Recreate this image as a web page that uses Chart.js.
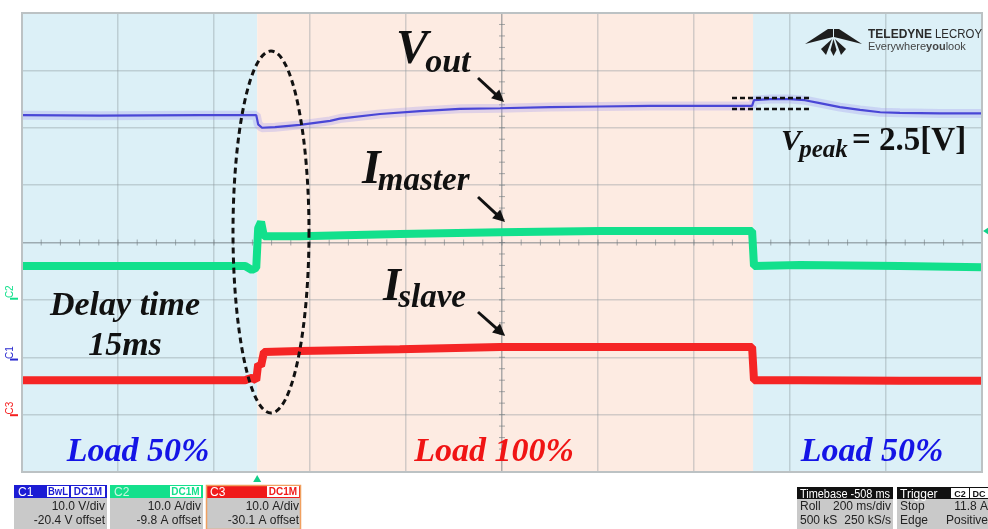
<!DOCTYPE html>
<html>
<head>
<meta charset="utf-8">
<script src="https://cdn.jsdelivr.net/npm/chart.js@4.4.0/dist/chart.umd.min.js"></script>
<style>
  html, body { margin: 0; padding: 0; background: #fff; }
  canvas { display: block; }
</style>
</head>
<body>
<canvas id="scopeCanvas" width="988" height="529"></canvas>
<script>
// time axis in ms, 200 ms/div, 10 div on screen
const timeMin = 0;
const timeMax = 2000;
const loadStepUp = 490;     // load 50% -> 100%
const loadStepDown = 1523;  // load 100% -> 50%

// C1 : Vout [V]
const vTime = [0, 162, 371, 475, 488, 492, 500, 527, 579, 642, 662, 746, 829, 912, 996, 1100, 1204, 1308, 1412, 1521, 1525, 1558, 1600, 1631, 1662, 1704, 1746, 1788, 1829, 1912, 2000];
const vOut  = [42.6, 42.5, 42.6, 42.6, 42.6, 41.0, 40.4, 40.5, 40.9, 41.6, 42.0, 42.8, 43.3, 43.7, 43.8, 44.0, 44.1, 44.2, 44.2, 44.2, 45.2, 45.4, 45.4, 45.2, 44.7, 44.0, 43.5, 43.1, 43.0, 42.9, 42.9];

// C2 : Imaster [A], C3 : Islave [A]
const iTime   = [0, 465, 471, 479, 488, 492, 498, 504, 579, 787, 996, 1204, 1412, 1521, 1525, 1621, 1829, 2000];
const iMaster = [5.7, 5.7, 5.4, 5.0, 5.4, 12.3, 13.4, 10.9, 10.9, 11.3, 11.6, 11.8, 11.8, 11.8, 5.7, 5.9, 5.7, 5.5];
const iSlave  = [6.1, 6.1, 6.3, 6.5, 6.1, 8.9, 8.6, 11.0, 11.2, 11.5, 11.9, 11.9, 11.9, 11.9, 6.1, 6.1, 6.0, 6.0];

// channel settings (scale per div, offset) as shown on the scope
const channels = [
  { name: "C1", perDiv: 10, offset: -20.4, unit: "V", color: "#2a2ad0" },
  { name: "C2", perDiv: 10, offset: -9.8, unit: "A", color: "#12e08c" },
  { name: "C3", perDiv: 10, offset: -30.1, unit: "A", color: "#f52020" }
];
const triggerLevel = 11.8;

function pts(xs, ys) {
  return xs.map((t, i) => ({ x: t, y: ys[i] }));
}

function chRange(ch) {
  return { min: -4 * ch.perDiv - ch.offset, max: 4 * ch.perDiv - ch.offset };
}

const serif = '"Liberation Serif", "DejaVu Serif", serif';
const sans = '"Liberation Sans", Arial, sans-serif';

function arrow(ctx, x1, y1, x2, y2) {
  const a = Math.atan2(y2 - y1, x2 - x1);
  ctx.strokeStyle = "#111";
  ctx.fillStyle = "#111";
  ctx.lineWidth = 3;
  ctx.beginPath();
  ctx.moveTo(x1, y1);
  ctx.lineTo(x2 - 8 * Math.cos(a), y2 - 8 * Math.sin(a));
  ctx.stroke();
  ctx.beginPath();
  ctx.moveTo(x2, y2);
  ctx.lineTo(x2 - 12 * Math.cos(a) + 6 * Math.sin(a), y2 - 12 * Math.sin(a) - 6 * Math.cos(a));
  ctx.lineTo(x2 - 12 * Math.cos(a) - 6 * Math.sin(a), y2 - 12 * Math.sin(a) + 6 * Math.cos(a));
  ctx.closePath();
  ctx.fill();
}

// big symbol with subscript, e.g. V_out
function symbol(ctx, x, y, main, sub, size, subSize, drop) {
  ctx.fillStyle = "#111";
  ctx.textAlign = "left";
  ctx.textBaseline = "alphabetic";
  ctx.font = "italic bold " + size + "px " + serif;
  ctx.fillText(main, x, y);
  const w = ctx.measureText(main).width;
  ctx.font = "italic bold " + subSize + "px " + serif;
  ctx.fillText(sub, x + w - size * 0.06, y + drop);
  return x + w + ctx.measureText(sub).width;
}

function smallBox(ctx, x, y, w, h, text, fg) {
  ctx.fillStyle = "#fff";
  ctx.fillRect(x, y, w, h);
  ctx.fillStyle = fg;
  ctx.font = "bold 10px " + sans;
  ctx.textAlign = "center";
  ctx.fillText(text, x + w / 2, y + h - 2, w - 2);
}

function channelPanel(ctx, x, w, ch, headColor, nameColor, extras, border) {
  const y = 485;
  ctx.fillStyle = "#c9c9c9";
  ctx.fillRect(x, y + 13, w, 529 - y - 13);
  ctx.fillStyle = headColor;
  ctx.fillRect(x, y, w, 13);
  if (border) {
    ctx.strokeStyle = border;
    ctx.lineWidth = 1.5;
    ctx.strokeRect(x + 0.5, y + 0.5, w - 1, 529 - y);
  }
  ctx.textBaseline = "alphabetic";
  ctx.font = "12px " + sans;
  ctx.textAlign = "left";
  ctx.fillStyle = nameColor;
  ctx.fillText(ch.name, x + 4, y + 11);
  let bx = x + w - 2;
  for (let i = extras.length - 1; i >= 0; i--) {
    const e = extras[i];
    bx -= e.w;
    smallBox(ctx, bx, y + 1, e.w, 11, e.text, headColor);
    bx -= 2;
  }
  ctx.fillStyle = "#222";
  ctx.font = "12px " + sans;
  ctx.textAlign = "right";
  ctx.fillText(ch.perDiv.toFixed(1) + " " + ch.unit + "/div", x + w - 2, 510);
  ctx.fillText(ch.offset.toFixed(1) + " " + ch.unit + " offset", x + w - 2, 524);
}

function infoPanel(ctx, x, w, title, rows, boxes) {
  const y = 487;
  ctx.fillStyle = "#c9c9c9";
  ctx.fillRect(x, y + 12, w, 529 - y - 12);
  ctx.fillStyle = "#111";
  ctx.fillRect(x, y, w, 12);
  ctx.font = "12px " + sans;
  ctx.textBaseline = "alphabetic";
  ctx.textAlign = "left";
  ctx.fillStyle = "#fff";
  ctx.fillText(title, x + 3, y + 11, w - 6);
  if (boxes) {
    let bx = x + w - 20;
    for (let i = boxes.length - 1; i >= 0; i--) {
      ctx.fillStyle = "#fff";
      ctx.fillRect(bx, y + 1, 18, 10);
      ctx.fillStyle = "#111";
      ctx.font = "bold 9px " + sans;
      ctx.textAlign = "center";
      ctx.fillText(boxes[i], bx + 9, y + 10);
      bx -= 19;
    }
  }
  ctx.font = "12px " + sans;
  ctx.fillStyle = "#222";
  rows.forEach((r, i) => {
    ctx.textAlign = "left";
    ctx.fillText(r[0], x + 3, 510 + i * 14);
    ctx.textAlign = "right";
    ctx.fillText(r[1], x + w - 2, 510 + i * 14);
  });
}

function logo(ctx) {
  ctx.fillStyle = "#1e1e1e";
  // wings
  ctx.beginPath();
  ctx.moveTo(805, 44); ctx.lineTo(828, 29); ctx.lineTo(833, 29); ctx.lineTo(833, 37); ctx.closePath(); ctx.fill();
  ctx.beginPath();
  ctx.moveTo(862, 44); ctx.lineTo(839, 29); ctx.lineTo(834, 29); ctx.lineTo(834, 37); ctx.closePath(); ctx.fill();
  // petals
  ctx.beginPath();
  ctx.moveTo(832, 39); ctx.lineTo(821, 49); ctx.lineTo(826, 55); ctx.closePath(); ctx.fill();
  ctx.beginPath();
  ctx.moveTo(835, 39); ctx.lineTo(846, 49); ctx.lineTo(841, 55); ctx.closePath(); ctx.fill();
  ctx.beginPath();
  ctx.moveTo(833.5, 39); ctx.lineTo(830.5, 50); ctx.lineTo(833.5, 56); ctx.lineTo(836.5, 50); ctx.closePath(); ctx.fill();

  ctx.textAlign = "left";
  ctx.textBaseline = "alphabetic";
  ctx.font = "bold 13px " + sans;
  ctx.fillStyle = "#2a2a2a";
  ctx.fillText("TELEDYNE", 868, 38, 64);
  ctx.font = "13px " + sans;
  ctx.fillText("LECROY", 935, 38, 47);
  ctx.fillStyle = "#444";
  const parts = [["Everywhere", "11px "], ["you", "bold 11px "], ["look", "11px "]];
  let total = 0;
  parts.forEach(p => { ctx.font = p[1] + sans; total += ctx.measureText(p[0]).width; });
  const k = Math.min(1, 112 / total);
  let x = 868;
  parts.forEach(p => {
    ctx.font = p[1] + sans;
    const w = ctx.measureText(p[0]).width * k;
    ctx.fillText(p[0], x, 50, w);
    x += w;
  });
}

const scopePlugin = {
  id: "scope",
  beforeDraw(chart) {
    const ctx = chart.ctx;
    const a = chart.chartArea;
    const xs = chart.scales.x;
    ctx.save();
    ctx.fillStyle = "#fff";
    ctx.fillRect(0, 0, chart.width, chart.height);
    const x1 = xs.getPixelForValue(loadStepUp);
    const x2 = xs.getPixelForValue(loadStepDown);
    ctx.fillStyle = "#dcf0f7";
    ctx.fillRect(a.left, a.top, x1 - a.left, a.bottom - a.top);
    ctx.fillRect(x2, a.top, a.right - x2, a.bottom - a.top);
    ctx.fillStyle = "#fdebe2";
    ctx.fillRect(x1, a.top, x2 - x1, a.bottom - a.top);
    ctx.restore();
  },
  beforeDatasetsDraw(chart) {
    // minor ticks on the centre cross
    const ctx = chart.ctx;
    const xs = chart.scales.x;
    const ys = chart.scales.y;
    const cx = xs.getPixelForValue(1000);
    const cy = ys.getPixelForValue(0);
    ctx.save();
    ctx.strokeStyle = "rgba(110,120,125,0.6)";
    ctx.lineWidth = 1;
    ctx.beginPath();
    for (let t = 0; t <= 2000; t += 40) {
      const px = xs.getPixelForValue(t);
      ctx.moveTo(px, cy - 3); ctx.lineTo(px, cy + 3);
    }
    for (let d = -4; d <= 4; d += 0.2) {
      const py = ys.getPixelForValue(d);
      ctx.moveTo(cx - 3, py); ctx.lineTo(cx + 3, py);
    }
    ctx.stroke();
    ctx.restore();
  },
  afterDatasetsDraw(chart) {
    const ctx = chart.ctx;
    const a = chart.chartArea;
    const xs = chart.scales.x;
    ctx.save();

    // frame
    ctx.strokeStyle = "#bcc2c4";
    ctx.lineWidth = 2;
    ctx.strokeRect(a.left, a.top, a.right - a.left, a.bottom - a.top);

    // channel ground markers on the left edge
    channels.forEach((ch) => {
      const py = chart.scales["y" + ch.name].getPixelForValue(0);
      ctx.save();
      ctx.translate(10, py - 7);
      ctx.rotate(-Math.PI / 2);
      ctx.fillStyle = ch.color;
      ctx.font = "10px " + sans;
      ctx.textAlign = "center";
      ctx.textBaseline = "middle";
      ctx.fillText(ch.name, 0, 0);
      ctx.restore();
      ctx.fillStyle = ch.color;
      ctx.fillRect(10, py - 1, 8, 2);
    });

    // trigger markers
    const tx = xs.getPixelForValue(loadStepUp);
    ctx.fillStyle = "#12d08a";
    ctx.beginPath();
    ctx.moveTo(tx, 475); ctx.lineTo(tx - 4, 482); ctx.lineTo(tx + 4, 482); ctx.closePath(); ctx.fill();
    const ty = chart.scales.yC2.getPixelForValue(triggerLevel);
    ctx.beginPath();
    ctx.moveTo(a.right + 1, ty); ctx.lineTo(a.right + 7, ty - 4); ctx.lineTo(a.right + 7, ty + 4); ctx.closePath(); ctx.fill();

    // dashed ellipse around the load step
    ctx.setLineDash([6, 4]);
    ctx.lineWidth = 3;
    ctx.strokeStyle = "#111";
    ctx.beginPath();
    ctx.ellipse(271, 232, 38, 181, 0, 0, Math.PI * 2);
    ctx.stroke();

    // Vpeak markers
    ctx.setLineDash([5, 3]);
    ctx.lineWidth = 2.5;
    ctx.beginPath();
    ctx.moveTo(732, 98); ctx.lineTo(812, 98);
    ctx.moveTo(732, 109); ctx.lineTo(812, 109);
    ctx.stroke();
    ctx.setLineDash([]);

    // labels
    symbol(ctx, 396, 63, "V", "out", 48, 34, 9);
    arrow(ctx, 478, 78, 504, 102);
    symbol(ctx, 362, 183, "I", "master", 48, 33, 7);
    arrow(ctx, 478, 197, 505, 222);
    symbol(ctx, 383, 300, "I", "slave", 46, 33, 7);
    arrow(ctx, 478, 312, 505, 336);

    symbol(ctx, 781, 150, "V", "peak", 30, 25, 7);
    ctx.font = "bold 33px " + serif;
    ctx.textAlign = "left";
    ctx.fillText("= 2.5[V]", 852, 150);

    ctx.font = "italic bold 34px " + serif;
    ctx.textAlign = "center";
    ctx.fillStyle = "#111";
    ctx.fillText("Delay time", 125, 315);
    ctx.fillText("15ms", 125, 355);

    ctx.fillStyle = "#1414e6";
    ctx.fillText("Load 50%", 138, 461);
    ctx.fillText("Load 50%", 872, 461);
    ctx.fillStyle = "#f01414";
    ctx.fillText("Load 100%", 494, 461);

    logo(ctx);

    // bottom readouts
    channelPanel(ctx, 14, 93, channels[0], "#1c1cd4", "#fff", [{ text: "BwL", w: 22 }, { text: "DC1M", w: 34 }]);
    channelPanel(ctx, 110, 93, channels[1], "#14e08c", "#c8f8e0", [{ text: "DC1M", w: 31 }]);
    channelPanel(ctx, 206, 95, channels[2], "#f01a1a", "#fff", [{ text: "DC1M", w: 32 }], "#f0a060");
    infoPanel(ctx, 797, 96, "Timebase -508 ms", [["Roll", "200 ms/div"], ["500 kS", "250 kS/s"]]);
    infoPanel(ctx, 897, 93, "Trigger", [["Stop", "11.8 A"], ["Edge", "Positive"]], ["C2", "DC"]);

    ctx.restore();
  }
};

const gridColor = (c) => {
  const centre = c.tick && ((c.scale.axis === "x" && c.tick.value === 1000) || (c.scale.axis === "y" && c.tick.value === 0));
  return centre ? "rgba(105,115,120,0.55)" : "rgba(140,150,155,0.38)";
};

const r1 = chRange(channels[0]);
const r2 = chRange(channels[1]);
const r3 = chRange(channels[2]);

const ctx = document.getElementById("scopeCanvas").getContext("2d");
const chart = new Chart(ctx, {
  type: "line",
  data: {
    datasets: [
      { label: "Vout noise", data: pts(vTime, vOut), yAxisID: "yC1", borderColor: "rgba(160,150,240,0.3)", borderWidth: 9 },
      { label: "Vout", data: pts(vTime, vOut), yAxisID: "yC1", borderColor: "#2424cc", borderWidth: 2.2 },
      { label: "Imaster", data: pts(iTime, iMaster), yAxisID: "yC2", borderColor: "#12e08c", borderWidth: 8 },
      { label: "Islave", data: pts(iTime, iSlave), yAxisID: "yC3", borderColor: "#f52525", borderWidth: 8 }
    ]
  },
  options: {
    responsive: false,
    animation: false,
    layout: { padding: { left: 22, right: 6, top: 13, bottom: 57 } },
    plugins: { legend: { display: false }, tooltip: { enabled: false } },
    elements: { point: { radius: 0 }, line: { tension: 0, fill: false, borderJoinStyle: "bevel", borderCapStyle: "butt" } },
    scales: {
      x: {
        type: "linear", min: timeMin, max: timeMax,
        ticks: { display: false, stepSize: 200 },
        grid: { color: gridColor, lineWidth: 1.5, drawTicks: false },
        border: { display: false }
      },
      y: {
        type: "linear", min: -4, max: 4,
        ticks: { display: false, stepSize: 1 },
        grid: { color: gridColor, lineWidth: 1.5, drawTicks: false },
        border: { display: false }
      },
      yC1: { type: "linear", display: false, min: r1.min, max: r1.max },
      yC2: { type: "linear", display: false, min: r2.min, max: r2.max },
      yC3: { type: "linear", display: false, min: r3.min, max: r3.max }
    }
  },
  plugins: [scopePlugin]
});
</script>
</body>
</html>
